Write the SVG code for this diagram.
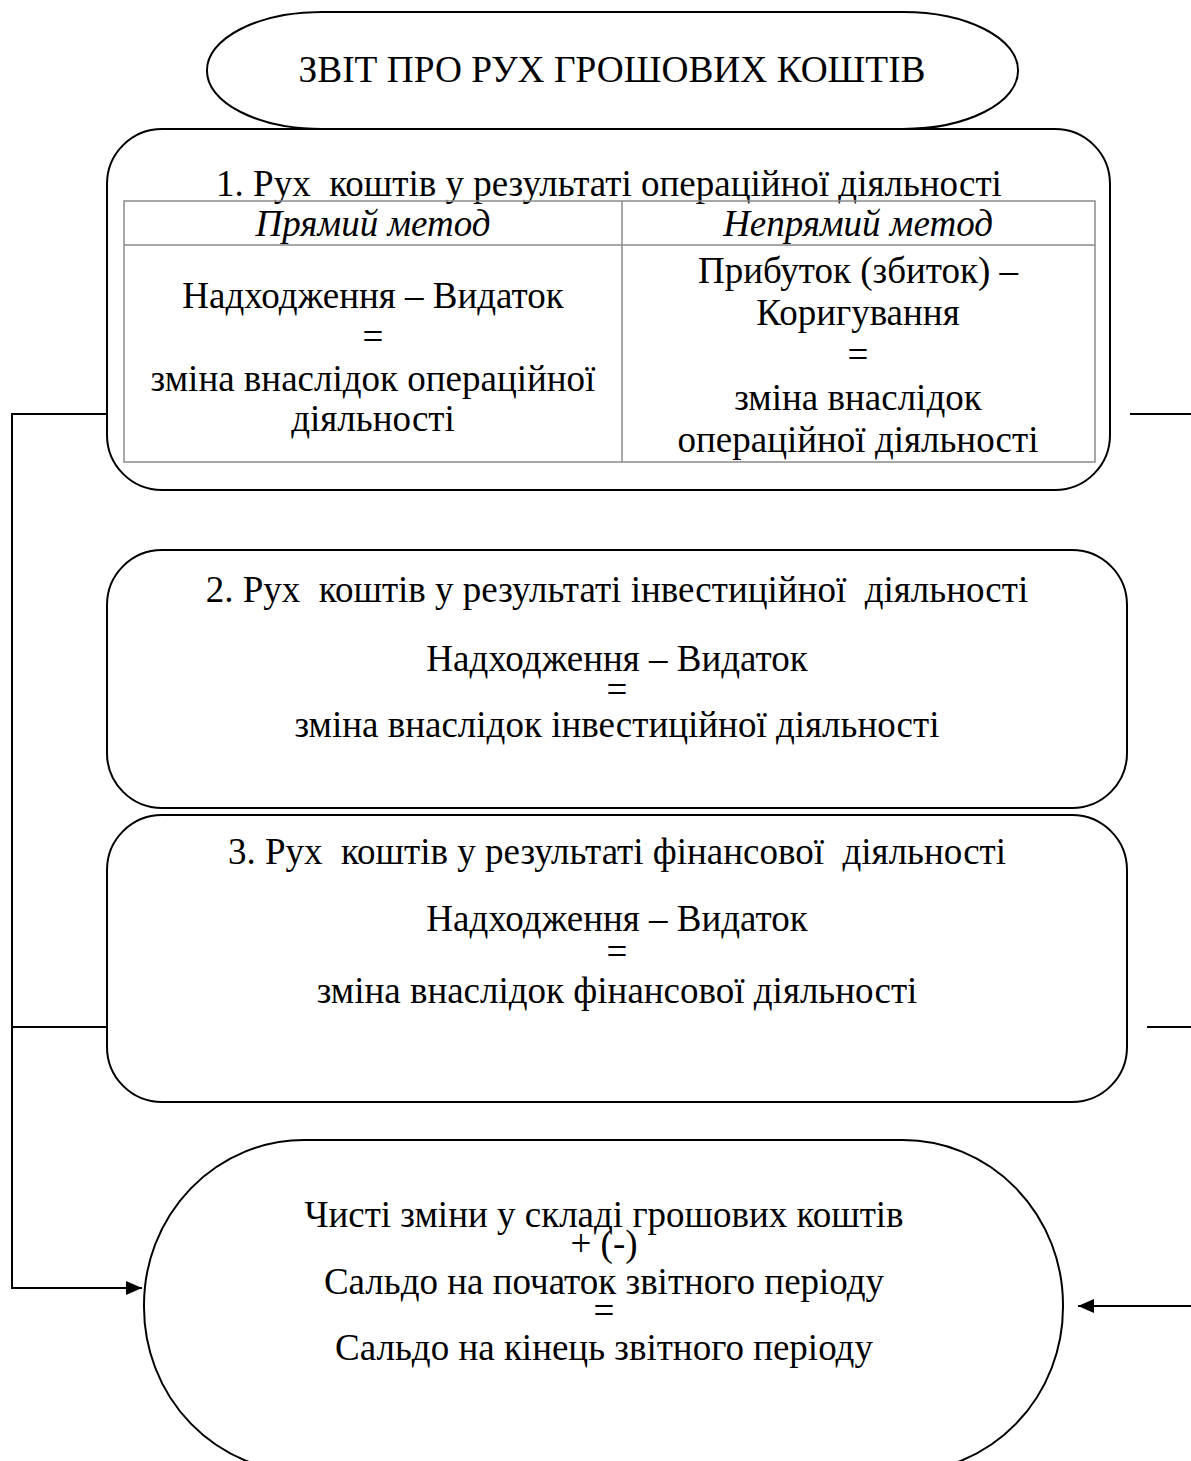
<svg xmlns="http://www.w3.org/2000/svg" width="1191" height="1461" viewBox="0 0 1191 1461">
  <style>
    .shape { fill: #fff; stroke: #000; stroke-width: 2; }
    .grid { fill: none; stroke: #8a8a8a; stroke-width: 1.5; }
    .wire { fill: none; stroke: #000; stroke-width: 2; }
    text { font-family: "Liberation Serif", "Times New Roman", serif; font-size: 37px; fill: #000; text-anchor: middle; white-space: pre; }
    .it { font-style: italic; }
  </style>
  <defs>
    <marker id="arrow" viewBox="0 0 16 14" refX="16" refY="7" markerWidth="16" markerHeight="14" markerUnits="userSpaceOnUse" orient="auto">
      <path d="M0,0 L16,7 L0,14 Z" fill="#000"/>
    </marker>
  </defs>

  <rect width="1191" height="1461" fill="#fff"/>

  <!-- connectors -->
  <g id="connectors">
    <polyline class="wire" points="107,414 12,414 12,1288 142,1288" marker-end="url(#arrow)"/>
    <line class="wire" x1="12" y1="1027" x2="107" y2="1027"/>
    <line class="wire" x1="1130" y1="414" x2="1191" y2="414"/>
    <line class="wire" x1="1147" y1="1027" x2="1191" y2="1027"/>
    <line class="wire" x1="1191" y1="1306" x2="1078" y2="1306" marker-end="url(#arrow)"/>
  </g>

  <!-- operating activities -->
  <g id="operating">
    <rect class="shape" x="107" y="129" width="1003" height="361" rx="55" ry="55"/>
    <text x="609" y="196">1. Рух  коштів у результаті операційної діяльності</text>
    <rect class="grid" x="124" y="201" width="971" height="261"/>
    <line class="grid" x1="124" y1="245" x2="1095" y2="245"/>
    <line class="grid" x1="622" y1="201" x2="622" y2="462"/>
    <text class="it" x="373" y="236">Прямий метод</text>
    <text class="it" x="858" y="236">Непрямий метод</text>
    <text x="373" y="308">Надходження – Видаток</text>
    <text x="373" y="349">=</text>
    <text x="373" y="391">зміна внаслідок операційної</text>
    <text x="373" y="431">діяльності</text>
    <text x="858" y="283">Прибуток (збиток) –</text>
    <text x="858" y="325">Коригування</text>
    <text x="858" y="367">=</text>
    <text x="858" y="410">зміна внаслідок</text>
    <text x="858" y="452">операційної діяльності</text>
  </g>

  <!-- report title -->
  <g id="title">
    <rect class="shape" x="207" y="12" width="811" height="117" rx="115" ry="58"/>
    <text x="612" y="82" font-size="38" textLength="627" lengthAdjust="spacingAndGlyphs">ЗВІТ ПРО РУХ ГРОШОВИХ КОШТІВ</text>
  </g>

  <!-- investing activities -->
  <g id="investing">
    <rect class="shape" x="107" y="550" width="1020" height="258" rx="55" ry="55"/>
    <text x="617" y="602">2. Рух  коштів у результаті інвестиційної  діяльності</text>
    <text x="617" y="671">Надходження – Видаток</text>
    <text x="617" y="702">=</text>
    <text x="617" y="737">зміна внаслідок інвестиційної діяльності</text>
  </g>

  <!-- financing activities -->
  <g id="financing">
    <rect class="shape" x="107" y="815" width="1020" height="287" rx="55" ry="55"/>
    <text x="617" y="864">3. Рух  коштів у результаті фінансової  діяльності</text>
    <text x="617" y="931">Надходження – Видаток</text>
    <text x="617" y="964">=</text>
    <text x="617" y="1003">зміна внаслідок фінансової діяльності</text>
  </g>

  <!-- net change -->
  <g id="net-change">
    <rect class="shape" x="144" y="1140" width="919" height="332" rx="160" ry="165"/>
    <text x="604" y="1227">Чисті зміни у складі грошових коштів</text>
    <text x="604" y="1256">+ (-)</text>
    <text x="604" y="1294">Сальдо на початок звітного періоду</text>
    <text x="604" y="1323">=</text>
    <text x="604" y="1360">Сальдо на кінець звітного періоду</text>
  </g>
</svg>
